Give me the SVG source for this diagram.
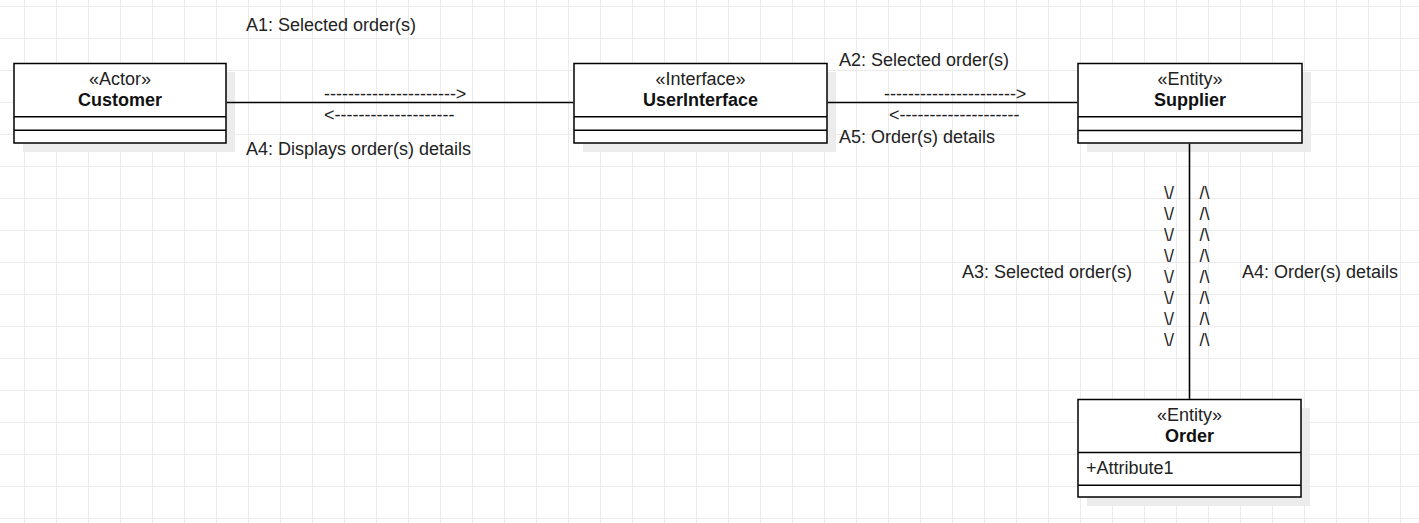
<svg xmlns="http://www.w3.org/2000/svg" width="1419" height="523" viewBox="0 0 1419 523">
<style>
text{font-family:"Liberation Sans",Arial,Helvetica,sans-serif;font-size:18px;fill:#222}
.c{text-anchor:middle}
.b{font-weight:bold;fill:#111}
.box{fill:#fff;stroke:#000;stroke-width:1.5}
.shadow{fill:#ececec;stroke:none}
.div{stroke:#000;stroke-width:1.5;fill:none}
.conn{stroke:#000;stroke-width:1.6;fill:none}
</style>
<defs>
<pattern id="grid" x="24" y="6" width="32" height="32" patternUnits="userSpaceOnUse">
<path d="M0 0.5H32M0.5 0V32" stroke="#ebebeb" stroke-width="1" fill="none"/>
</pattern>
</defs>
<rect width="1419" height="523" fill="#fff"/>
<rect width="1419" height="523" fill="url(#grid)"/>

<g id="customer">
<rect class="shadow" x="23" y="72" width="212" height="80"/>
<rect class="box" x="14" y="63.5" width="212" height="79.5"/>
<path class="div" d="M14 116.75H226M14 130.25H226"/>
<text class="c" x="120" y="85">«Actor»</text>
<text class="c b" x="120" y="106">Customer</text>
</g>

<g id="userinterface">
<rect class="shadow" x="583" y="72" width="253" height="80"/>
<rect class="box" x="574" y="63.5" width="253" height="79.5"/>
<path class="div" d="M574 116.75H827M574 130.25H827"/>
<text class="c" x="700.5" y="85">«Interface»</text>
<text class="c b" x="700.5" y="106">UserInterface</text>
</g>

<g id="supplier">
<rect class="shadow" x="1087" y="72" width="224" height="80"/>
<rect class="box" x="1078" y="63.5" width="224" height="79.5"/>
<path class="div" d="M1078 116.75H1302M1078 130.5H1302"/>
<text class="c" x="1190" y="85">«Entity»</text>
<text class="c b" x="1190" y="106">Supplier</text>
</g>

<g id="order">
<rect class="shadow" x="1087" y="408" width="223" height="98"/>
<rect class="box" x="1078" y="399.5" width="223" height="97.5"/>
<path class="div" d="M1078 452.5H1301M1078 485.25H1301"/>
<text class="c" x="1189.5" y="420.5">«Entity»</text>
<text class="c b" x="1189.5" y="442">Order</text>
<text x="1086" y="473.5">+Attribute1</text>
</g>

<g id="connectors">
<line class="conn" x1="226.75" y1="102.5" x2="573.25" y2="102.5"/>
<line class="conn" x1="827.75" y1="102.5" x2="1077.25" y2="102.5"/>
<line class="conn" x1="1189.5" y1="143.75" x2="1189.5" y2="398.75"/>
</g>

<g id="labels">
<text x="246" y="31">A1: Selected order(s)</text>
<text x="324" y="99.5">----------------------&gt;</text>
<text x="324" y="121">&lt;--------------------</text>
<text x="246" y="155">A4: Displays order(s) details</text>
<text x="839" y="66">A2: Selected order(s)</text>
<text x="884" y="99.5">----------------------&gt;</text>
<text x="889" y="121">&lt;--------------------</text>
<text x="839" y="143">A5: Order(s) details</text>
<text x="962" y="278">A3: Selected order(s)</text>
<text x="1242" y="278">A4: Order(s) details</text>
<g class="c">
<text x="1169" y="199">\/</text><text x="1204.5" y="199">/\</text>
<text x="1169" y="220">\/</text><text x="1204.5" y="220">/\</text>
<text x="1169" y="241">\/</text><text x="1204.5" y="241">/\</text>
<text x="1169" y="262">\/</text><text x="1204.5" y="262">/\</text>
<text x="1169" y="283">\/</text><text x="1204.5" y="283">/\</text>
<text x="1169" y="304">\/</text><text x="1204.5" y="304">/\</text>
<text x="1169" y="325">\/</text><text x="1204.5" y="325">/\</text>
<text x="1169" y="346">\/</text><text x="1204.5" y="346">/\</text>
</g>
</g>
</svg>
